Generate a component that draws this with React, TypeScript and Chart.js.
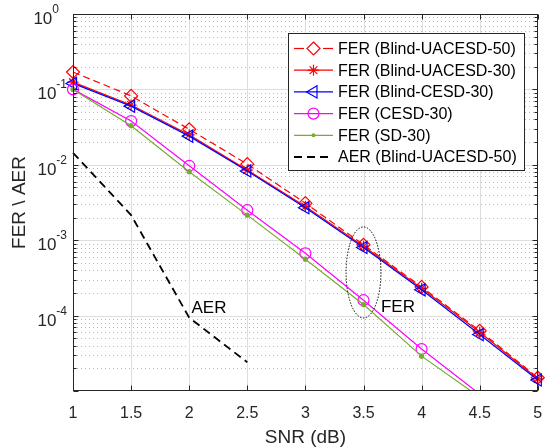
import React, { useEffect, useRef } from 'react';
import { Chart, registerables } from 'chart.js';

Chart.register(...registerables);

// ---------- data ----------
const snr = [1, 1.5, 2, 2.5, 3, 3.5, 4, 4.5, 5];
const snrAer = [1, 1.5, 2, 2.5];
const ferBlindUacesd50 = [0.17, 0.082, 0.0296, 0.0102, 3.1e-3, 8.7e-4, 2.4e-4, 6.3e-5, 1.5e-5];
const ferBlindUacesd30 = [0.125, 0.062, 0.025, 0.0085, 2.8e-3, 8.3e-4, 2.3e-4, 6.0e-5, 1.45e-5];
const ferBlindCesd30 = [0.12, 0.06, 0.024, 0.0083, 2.7e-3, 8.0e-4, 2.2e-4, 5.6e-5, 1.4e-5];
const ferCesd30 = [0.1, 0.038, 0.0097, 2.5e-3, 6.7e-4, 1.6e-4, 3.6e-5, 9.1e-6, 2.2e-6];
const ferSd30 = [0.1, 0.033, 0.0081, 2.15e-3, 5.6e-4, 1.4e-4, 2.9e-5, 8.3e-6, 2.0e-6];
const aerBlindUacesd50 = [0.0144, 2.15e-3, 9.4e-5, 2.4e-5];

const seriesLabels = [
  'FER (Blind-UACESD-50)',
  'FER (Blind-UACESD-30)',
  'FER (Blind-CESD-30)',
  'FER (CESD-30)',
  'FER (SD-30)',
  'AER (Blind-UACESD-50)',
];

const xTickValues = [1, 1.5, 2, 2.5, 3, 3.5, 4, 4.5, 5];
const xTickLabels = ['1', '1.5', '2', '2.5', '3', '3.5', '4', '4.5', '5'];
const yTickExponents = [0, -1, -2, -3, -4];
const yMin = 1e-5;
const yMax = 1;

const xTitle = 'SNR (dB)';
const yTitle = 'FER \\ AER';

// annotations (data coordinates)
const aerNote = { text: 'AER', x: 2.02, y: 1.08e-4 };
const ferNote = { text: 'FER', x: 3.65, y: 1.1e-4 };
const ferEllipse = { x: 3.5, xHalf: 0.15, yTop: 1.5e-3, yBottom: 9.3e-5 };

// ---------- styles ----------
const AXIS = '#262626';
const FONT = '"Liberation Sans", Arial, Helvetica, sans-serif';
const RED = '#ff0000';
const BLUE = '#0000ff';
const MAGENTA = '#ff00ff';
const GREEN = '#77ac30';
const BLACK = '#000000';

type MarkerKind = 'diamond' | 'star' | 'triLeft' | 'circle' | 'dot' | 'none';

const legendStyles: { color: string; dash: number[]; marker: MarkerKind; width: number }[] = [
  { color: RED, dash: [7, 4], marker: 'diamond', width: 1.2 },
  { color: RED, dash: [], marker: 'star', width: 1.2 },
  { color: BLUE, dash: [], marker: 'triLeft', width: 1.2 },
  { color: MAGENTA, dash: [], marker: 'circle', width: 1.2 },
  { color: GREEN, dash: [], marker: 'dot', width: 1.2 },
  { color: BLACK, dash: [8, 5], marker: 'none', width: 1.8 },
];

function drawMarker(ctx: CanvasRenderingContext2D, kind: MarkerKind, x: number, y: number, color: string) {
  ctx.save();
  ctx.setLineDash([]);
  ctx.strokeStyle = color;
  ctx.fillStyle = color;
  ctx.lineWidth = 1.2;
  ctx.beginPath();
  if (kind === 'diamond') {
    const r = 6.5;
    ctx.moveTo(x, y - r);
    ctx.lineTo(x + r, y);
    ctx.lineTo(x, y + r);
    ctx.lineTo(x - r, y);
    ctx.closePath();
    ctx.stroke();
  } else if (kind === 'star') {
    const r = 5.5;
    ctx.moveTo(x - r, y); ctx.lineTo(x + r, y);
    ctx.moveTo(x, y - r); ctx.lineTo(x, y + r);
    const d = r * Math.SQRT1_2;
    ctx.moveTo(x - d, y - d); ctx.lineTo(x + d, y + d);
    ctx.moveTo(x - d, y + d); ctx.lineTo(x + d, y - d);
    ctx.stroke();
  } else if (kind === 'triLeft') {
    const r = 7;
    for (let i = 0; i < 3; i++) {
      const a = -Math.PI / 2 + (i * 2 * Math.PI) / 3;
      const px = x + Math.sin(a) * r;
      const py = y - Math.cos(a) * r;
      if (i === 0) ctx.moveTo(px, py); else ctx.lineTo(px, py);
    }
    ctx.closePath();
    ctx.stroke();
  } else if (kind === 'circle') {
    ctx.arc(x, y, 5.5, 0, Math.PI * 2);
    ctx.stroke();
  } else if (kind === 'dot') {
    ctx.arc(x, y, 2, 0, Math.PI * 2);
    ctx.fill();
  }
  ctx.restore();
}

function line(ctx: CanvasRenderingContext2D, x1: number, y1: number, x2: number, y2: number) {
  ctx.beginPath();
  ctx.moveTo(x1, y1);
  ctx.lineTo(x2, y2);
  ctx.stroke();
}

const matlabPlugin = {
  id: 'matlabLook',
  beforeDatasetsDraw(chart: any) {
    const { ctx, chartArea: a, scales } = chart;
    const xs = scales.x;
    const ys = scales.y;
    ctx.save();
    // minor dotted grid
    ctx.strokeStyle = '#b8b8b8';
    ctx.lineWidth = 1;
    ctx.setLineDash([1, 3]);
    for (let e = -5; e < 0; e++) {
      for (let k = 2; k <= 9; k++) {
        const py = Math.round(ys.getPixelForValue(k * Math.pow(10, e))) + 0.5;
        line(ctx, a.left, py, a.right, py);
      }
    }
    // major grid
    ctx.setLineDash([]);
    ctx.strokeStyle = '#dedede';
    for (const e of yTickExponents) {
      if (e === 0) continue;
      const py = Math.round(ys.getPixelForValue(Math.pow(10, e))) + 0.5;
      line(ctx, a.left, py, a.right, py);
    }
    for (const v of xTickValues) {
      if (v === xTickValues[0] || v === xTickValues[xTickValues.length - 1]) continue;
      const px = Math.round(xs.getPixelForValue(v)) + 0.5;
      line(ctx, px, a.top, px, a.bottom);
    }
    ctx.restore();
  },
  afterDatasetsDraw(chart: any) {
    const { ctx, chartArea: a, scales } = chart;
    const xs = scales.x;
    const ys = scales.y;
    ctx.save();
    ctx.setLineDash([]);
    // axes box
    ctx.strokeStyle = AXIS;
    ctx.lineWidth = 1;
    const L = Math.round(a.left) + 0.5;
    const R = Math.round(a.right) - 0.5;
    const T = Math.round(a.top) + 0.5;
    const B = Math.round(a.bottom) - 0.5;
    ctx.strokeRect(L, T, R - L, B - T);
    // x ticks (bottom + top)
    for (const v of xTickValues) {
      const px = Math.round(xs.getPixelForValue(v)) + 0.5;
      line(ctx, px, B, px, B - 5);
      line(ctx, px, T, px, T + 5);
    }
    // y major + minor ticks (left + right)
    for (let e = -5; e <= 0; e++) {
      const py = Math.round(ys.getPixelForValue(Math.pow(10, e))) + 0.5;
      line(ctx, L, py, L + 5, py);
      line(ctx, R, py, R - 5, py);
      if (e < 0) {
        for (let k = 2; k <= 9; k++) {
          const qy = Math.round(ys.getPixelForValue(k * Math.pow(10, e))) + 0.5;
          line(ctx, L, qy, L + 3, qy);
          line(ctx, R, qy, R - 3, qy);
        }
      }
    }
    // x tick labels
    ctx.fillStyle = AXIS;
    ctx.font = `16px ${FONT}`;
    ctx.textAlign = 'center';
    ctx.textBaseline = 'alphabetic';
    xTickValues.forEach((v, i) => {
      ctx.fillText(xTickLabels[i], xs.getPixelForValue(v), 418);
    });
    // y tick labels 10^e
    for (const e of yTickExponents) {
      const py = ys.getPixelForValue(Math.pow(10, e));
      const exp = String(e);
      ctx.font = `12px ${FONT}`;
      const ew = ctx.measureText(exp).width;
      const right = e === 0 ? a.left - 14 : a.left - 6;
      ctx.textAlign = 'left';
      ctx.fillText(exp, right - ew, py - 1);
      ctx.font = `17px ${FONT}`;
      ctx.textAlign = 'right';
      ctx.fillText('10', right - ew, py + 10);
    }
    // axis titles
    ctx.font = `19px ${FONT}`;
    ctx.textAlign = 'center';
    ctx.fillText(xTitle, (a.left + a.right) / 2, 443);
    ctx.save();
    ctx.translate(25, (a.top + a.bottom) / 2);
    ctx.rotate(-Math.PI / 2);
    ctx.fillText(yTitle, 0, 0);
    ctx.restore();

    // annotations
    ctx.fillStyle = BLACK;
    ctx.font = `17px ${FONT}`;
    ctx.textAlign = 'left';
    ctx.fillText(aerNote.text, xs.getPixelForValue(aerNote.x), ys.getPixelForValue(aerNote.y));
    ctx.fillText(ferNote.text, xs.getPixelForValue(ferNote.x), ys.getPixelForValue(ferNote.y));
    // ellipse
    const cx = xs.getPixelForValue(ferEllipse.x);
    const rx = xs.getPixelForValue(ferEllipse.x + ferEllipse.xHalf) - cx;
    const yt = ys.getPixelForValue(ferEllipse.yTop);
    const yb = ys.getPixelForValue(ferEllipse.yBottom);
    ctx.strokeStyle = BLACK;
    ctx.lineWidth = 1;
    ctx.setLineDash([1.5, 1.5]);
    ctx.beginPath();
    ctx.ellipse(cx, (yt + yb) / 2, rx, (yb - yt) / 2, 0, 0, Math.PI * 2);
    ctx.stroke();
    ctx.setLineDash([]);

    // legend
    const lx = 288, ly = 33, lw = 236, lh = 137;
    ctx.fillStyle = '#ffffff';
    ctx.fillRect(lx, ly, lw, lh);
    ctx.strokeStyle = AXIS;
    ctx.lineWidth = 1;
    ctx.strokeRect(lx + 0.5, ly + 0.5, lw, lh);
    const rowH = 21.7;
    seriesLabels.forEach((label, i) => {
      const st = legendStyles[i];
      const cy = ly + 15.5 + i * rowH;
      const x1 = lx + 6, x2 = lx + 45, mx = lx + 25.5;
      ctx.strokeStyle = st.color;
      ctx.lineWidth = st.width;
      if (st.marker === 'diamond') {
        line(ctx, x1, cy, x1 + 10, cy);
        line(ctx, x2 - 10, cy, x2, cy);
      } else if (st.dash.length) {
        ctx.setLineDash(st.dash);
        line(ctx, x1, cy, x2, cy);
        ctx.setLineDash([]);
      } else {
        line(ctx, x1, cy, x2, cy);
      }
      drawMarker(ctx, st.marker, mx, cy, st.color);
      ctx.fillStyle = BLACK;
      ctx.font = `16px ${FONT}`;
      ctx.textAlign = 'left';
      ctx.textBaseline = 'middle';
      ctx.fillText(label, lx + 50, cy + 1);
      ctx.textBaseline = 'alphabetic';
    });
    ctx.restore();
  },
};

export default function App() {
  const ref = useRef<HTMLCanvasElement | null>(null);
  useEffect(() => {
    if (!ref.current) return;
    const toPts = (xs: number[], ys: number[]) => xs.map((x, i) => ({ x, y: ys[i] }));
    const base = { borderWidth: 1.2, pointBorderWidth: 1.2, tension: 0, pointBackgroundColor: 'rgba(0,0,0,0)' };
    const clipBottom = { left: false, top: false, right: false, bottom: 0 };
    // markers whose data point lies outside the axis range are not drawn (as in MATLAB)
    const inRange = (r: number) => (c: any) => {
      const v = c.raw && typeof c.raw.y === 'number' ? c.raw.y : 1;
      return v < yMin ? 0 : r;
    };
    const chart = new Chart(ref.current, {
      type: 'line',
      data: {
        datasets: [
          {
            ...base, label: seriesLabels[0], data: toPts(snr, ferBlindUacesd50), borderColor: RED, borderDash: [7, 4],
            pointStyle: 'rectRot', pointRadius: inRange(6.5), pointBorderColor: RED, clip: false, order: 5,
          },
          {
            ...base, label: seriesLabels[1], data: toPts(snr, ferBlindUacesd30), borderColor: RED,
            pointStyle: 'star', pointRadius: inRange(5.5), pointBorderColor: RED, clip: false, order: 4,
          },
          {
            ...base, label: seriesLabels[2], data: toPts(snr, ferBlindCesd30), borderColor: BLUE,
            pointStyle: 'triangle', pointRotation: -90, pointRadius: inRange(7), pointBorderColor: BLUE, clip: false, order: 3,
          },
          {
            ...base, label: seriesLabels[3], data: toPts(snr, ferCesd30), borderColor: MAGENTA,
            pointStyle: 'circle', pointRadius: inRange(5.5), pointBorderColor: MAGENTA, clip: clipBottom, order: 2,
          },
          {
            ...base, label: seriesLabels[4], data: toPts(snr, ferSd30), borderColor: GREEN,
            pointStyle: 'circle', pointRadius: inRange(2), pointBorderColor: GREEN, pointBackgroundColor: GREEN, clip: clipBottom, order: 1,
          },
          {
            ...base, label: seriesLabels[5], data: toPts(snrAer, aerBlindUacesd50), borderColor: BLACK, borderDash: [8, 5],
            borderWidth: 1.8, pointRadius: 0, clip: false, order: 0,
          },
        ] as any,
      },
      options: {
        responsive: false,
        animation: false,
        devicePixelRatio: 1,
        events: [],
        layout: { padding: { left: 73, top: 14, right: 5, bottom: 57 } },
        plugins: { legend: { display: false }, tooltip: { enabled: false }, title: { display: false } },
        scales: {
          x: { type: 'linear', min: 1, max: 5, display: false },
          y: { type: 'logarithmic', min: yMin, max: yMax, display: false },
        },
      } as any,
      plugins: [matlabPlugin],
    });
    return () => chart.destroy();
  }, []);
  return (
    <div style={{ position: 'fixed', left: 0, top: 0, width: 546, height: 448, background: '#fff' }}>
      <canvas ref={ref} width={546} height={448} style={{ display: 'block', width: 546, height: 448 }} />
    </div>
  );
}
